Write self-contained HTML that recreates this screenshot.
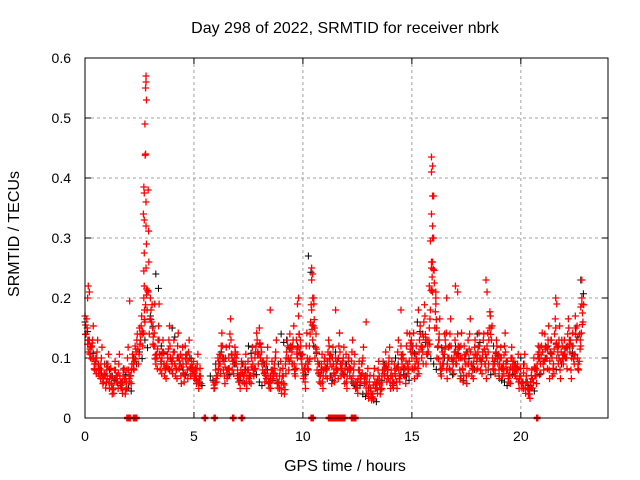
<!DOCTYPE html>
<html><head><meta charset="utf-8"><style>
body{margin:0;background:#fff}
svg{display:block;font-family:"Liberation Sans",sans-serif}
</style></head><body>
<svg id="chart" width="640" height="480">
<rect width="640" height="480" fill="#fff"/>
<text x="345" y="33" font-size="16" text-anchor="middle">Day 298 of 2022, SRMTID for receiver nbrk</text>
<text x="345" y="471" font-size="16" text-anchor="middle">GPS time / hours</text>
<text transform="translate(19,234) rotate(-90)" font-size="16" text-anchor="middle">SRMTID / TECUs</text>
<g id="grid"></g>
<g id="ticks"></g>
<g id="black"></g>
<g id="red"></g>
<rect x="85" y="58" width="523" height="360" fill="none" stroke="#000" stroke-width="1"/>
</svg>
<script>
const xTicks=[0,5,10,15,20];
const yTicks=[0,0.1,0.2,0.3,0.4,0.5,0.6];
const yTickLabels=["0","0.1","0.2","0.3","0.4","0.5","0.6"];
const redStart=0, redStep=0.1;
const redA=[.17,.15,.13,.12,.10,.09,.09,.08,.07,.09,
.08,.06,.07,.05,.08,.06,.07,.05,.08,.06,
.08,.07,.10,.12,.14,.15,.17,.20,.25,.38,
.20,.15,.12,.10,.13,.09,.11,.08,.10,.12,
.09,.11,.08,.10,.07,.09,.12,.08,.10,.09,
.08,.07,.06,.07,null,null,null,null,null,.06,
.08,.10,.09,.12,.07,.08,.10,.13,.09,.11,
.08,.06,.09,.07,.06,.08,.07,.09,.10,.13,
.15,.11,.09,.08,.07,.06,.08,.09,.07,.06,
.05,.07,.09,.12,.14,.11,.09,.13,.17,.12,
.08,.06,.10,.12,.18,.20,.14,.09,.07,.06,
.10,.08,.12,.07,.09,.10,.08,.11,.09,.07,
.06,.10,.08,.07,.06,.05,.08,.09,.07,.05,
.04,.05,.04,.06,.05,.07,.06,.09,.11,.08,
.06,.07,.09,.06,.08,.12,.10,.07,.09,.14,
.10,.08,.12,.09,.14,.11,.17,.13,.15,.26,
.30,.20,.12,.09,.11,.14,.08,.10,.12,.09,
.11,.14,.08,.10,.12,.07,.09,.11,.08,.13,
.10,.12,.09,.14,.08,.11,.17,.10,.09,.12,
.08,.10,.09,.11,.08,.07,.10,.09,.08,.06,
.07,.06,.05,.06,.04,.08,.10,.07,.12,.09,
.11,.14,.10,.08,.13,.09,.15,.11,.08,.12,
.13,.10,.15,.08,.12,.17,.10,.14,.19];
const redB=[.14,.11,.10,.13,.08,.11,.07,.10,.06,.05,
.09,.07,.04,.08,.06,.09,.05,.07,.04,.10,
.06,.09,.08,.11,.09,.13,.12,.16,.18,.14,
.16,.12,.09,.13,.08,.11,.07,.09,.13,.08,
.11,.07,.12,.09,.10,.06,.09,.11,.07,.08,
.07,.09,.07,null,null,null,null,null,null,.05,
.06,.09,.12,.08,.10,.07,.14,.08,.10,.09,
.06,.08,.06,.09,.08,.06,.10,.07,.12,.09,
.10,.08,.06,.10,.05,.08,.07,.11,.05,.08,
.07,.04,.11,.08,.10,.13,.07,.10,.11,.09,
.07,.12,.08,.16,.13,.10,.08,.06,.09,.08,
.07,.11,.09,.10,.06,.08,.12,.07,.10,.09,
.08,.07,.11,.09,.05,.08,.06,.10,.06,.07,
.06,.03,.07,.05,.08,.04,.08,.07,.06,.10,
.08,.05,.07,.11,.06,.09,.07,.12,.08,.11,
.12,.09,.07,.13,.10,.16,.09,.11,.18,.21,
.15,.10,.14,.07,.09,.12,.10,.14,.08,.11,
.09,.10,.12,.06,.09,.11,.14,.07,.10,.08,
.12,.08,.11,.09,.12,.15,.13,.08,.11,.09,
.10,.07,.12,.08,.06,.10,.08,.07,.09,.07,
.05,.09,.07,.04,.06,.05,.07,.09,.10,.12,
.08,.10,.13,.11,.07,.14,.10,.13,.11,.09,
.10,.14,.11,.12,.09,.13,.08,.12,.16];
const redPeaks=[[2.8,0.57],[2.8,0.56],[2.78,0.55],[2.82,0.53],[2.75,0.49],[2.78,0.44],[2.76,0.438],[2.7,0.385],[2.72,0.375],[2.8,0.36],[2.68,0.34],[2.72,0.33],[2.8,0.32],[2.82,0.29],[2.72,0.275],[2.7,0.245],[2.72,0.22],[2.9,0.21],[0.15,0.22],[0.2,0.21],[0.12,0.2],[2.05,0.195],[10.4,0.25],[10.45,0.24],[10.4,0.23],[10.45,0.2],[10.5,0.19],[15.9,0.435],[15.95,0.42],[15.9,0.41],[15.95,0.37],[16.0,0.37],[15.9,0.34],[15.95,0.32],[15.95,0.3],[15.85,0.295],[15.95,0.26],[15.9,0.25],[15.8,0.22],[16.1,0.21],[16.1,0.19],[17.0,0.22],[18.4,0.23],[18.45,0.21],[9.8,0.2],[9.75,0.19],[8.5,0.18],[22.8,0.23],[22.8,0.2],[22.75,0.185],[21.6,0.2],[21.65,0.19],[14.5,0.18],[12.9,0.16],[11.5,0.18],[15.3,0.18],[3.2,0.19],[3.4,0.19],[16.6,0.2],[17.1,0.21]];
const zeroTimes=[1.95,2.05,2.25,2.35,5.5,5.95,6.8,7.2,10.4,10.45,11.2,11.3,11.4,11.5,11.6,11.7,11.8,11.9,12.25,12.35,12.4,20.75];
const blackStart=0, blackStep=0.25;
const black=[.16,.12,.10,.08,.09,.07,.06,.08,.05,.10,.11,.13,.17,.24,.12,.09,.15,.10,.08,.11,.07,.06,null,.07,.09,.11,.08,.10,.07,.09,.12,.08,.06,.09,.07,.10,.14,.13,.09,.12,.08,.27,.12,.09,.10,.07,.11,.08,.09,.06,.06,.04,.05,.03,.07,.09,.06,.10,.08,.07,.12,.16,.14,.11,.09,.13,.10,.08,.12,.07,.11,.09,.14,.10,.08,.12,.07,.06,.08,.09,.10,.06,.05,.08,.11,.12,.09,.10,.13,.12,.15,.23];
const X0=85,X1=608,Y0=418,Y1=58;
const xs=t=>X0+t*(X1-X0)/24;
const ys=v=>Y0-v*(Y0-Y1)/0.6;
const NS="http://www.w3.org/2000/svg";
function mk(tag,attrs,parent){const e=document.createElementNS(NS,tag);for(const k in attrs)e.setAttribute(k,attrs[k]);parent.appendChild(e);return e;}
const grid=document.getElementById('grid'),ticks=document.getElementById('ticks');
xTicks.forEach(t=>{const x=xs(t);
 if(t>0){const g=mk('line',{x1:x,x2:x,y1:Y1,y2:Y0,stroke:'#a0a0a0','stroke-dasharray':'3,3'},grid);
 
 }
 mk('line',{x1:x,x2:x,y1:Y0,y2:Y0-6,stroke:'#000'},ticks);
 mk('line',{x1:x,x2:x,y1:Y1,y2:Y1+6,stroke:'#000'},ticks);
 const l=mk('text',{x:x,y:Y0+23,'font-size':14,'text-anchor':'middle'},ticks);l.textContent=t;
 
 
});
yTicks.forEach((v,i)=>{const y=ys(v);
 if(v>0&&v<0.6){const g=mk('line',{x1:X0,x2:X1,y1:y,y2:y,stroke:'#a0a0a0','stroke-dasharray':'3,3'},grid);
 
 }
 mk('line',{x1:X0,x2:X0+6,y1:y,y2:y,stroke:'#000'},ticks);
 mk('line',{x1:X1,x2:X1-6,y1:y,y2:y,stroke:'#000'},ticks);
 const l=mk('text',{x:X0-14,y:y+5,'font-size':14,'text-anchor':'end'},ticks);l.textContent=yTickLabels[i];
 
 
});
function cross(g,t,v,col,w){const x=xs(t),y=ys(v);
 const p=mk('path',{d:`M${x-3.5} ${y}h7M${x} ${y-3.5}v7`,stroke:col,'stroke-width':w,fill:'none'},g);
 
 }
const bg=document.getElementById('black'),rg=document.getElementById('red');
black.forEach((v,i)=>{if(v!==null){cross(bg,blackStart+i*blackStep,v,'#000',1);cross(bg,blackStart+i*blackStep+0.12,v*0.9,'#000',1);}});
redA.forEach((v,i)=>{if(v!==null)cross(rg,redStart+i*redStep,v,'#f00',1.3);});
redB.forEach((v,i)=>{if(v!==null)cross(rg,redStart+i*redStep+0.05,v,'#f00',1.3);});
redA.forEach((v,i)=>{if(v!==null&&redB[i]!==null)cross(rg,redStart+i*redStep+0.03,(v+redB[i])/2,'#f00',1.3);});
redA.forEach((v,i)=>{if(v!==null)cross(rg,redStart+i*redStep+0.02,v*0.82,'#f00',1.3);});
redB.forEach((v,i)=>{if(v!==null)cross(rg,redStart+i*redStep+0.08,v*1.18,'#f00',1.3);});
redPeaks.forEach(p=>cross(rg,p[0],p[1],'#f00',1.3));
zeroTimes.forEach(t=>cross(rg,t,0,'#f00',2.5));
</script>
</body></html>
